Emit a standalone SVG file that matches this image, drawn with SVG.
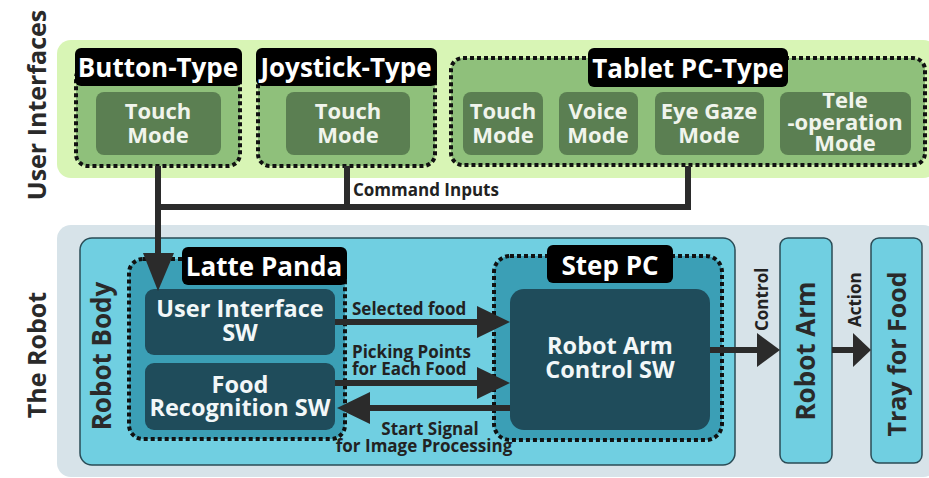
<svg xmlns="http://www.w3.org/2000/svg" width="929" height="478" viewBox="0 0 929 478">
<defs>
<style>
text{font-family:"Open Sans","Liberation Sans",sans-serif;font-weight:bold}
.title{font-size:25px;fill:#2a2a2a;text-anchor:middle}
.lbl{font-size:26px;fill:#fff;text-anchor:middle}
.mode{font-size:22px;fill:#f0f4ec;text-anchor:middle}
.sw{font-size:23.5px;fill:#f2f7f8;text-anchor:middle}
.edge{font-size:17px;fill:#222;}
.vt{font-size:26px;fill:#2a2a2a;text-anchor:middle}
.tag{fill:#000}
.dot{stroke:#111;stroke-width:4;stroke-dasharray:4 3}
.gdot{fill:#8fc07b}
.gin{fill:#5b7f52}
.bdot{fill:#3b9fb6}
.bin{fill:#1f4c5b}
.box{fill:#70cfe1;stroke:#2a4c56;stroke-width:1.5}
.conn{stroke:#2b2b2b;stroke-width:6;fill:none}
.head{fill:#2b2b2b}
</style>
</defs>
<rect width="929" height="478" fill="#fff"/>
<rect x="57" y="40" width="880" height="138" rx="14" fill="#d8f5b5"/>
<rect x="57" y="225" width="880" height="252" rx="14" fill="#d7e3e9"/>
<text class="title" transform="translate(46,105) rotate(-90)">User Interfaces</text>
<text class="title" transform="translate(46,355) rotate(-90)">The Robot</text>

<g id="button-type">
<rect class="gdot dot" x="76" y="66" width="164" height="100" rx="12"/>
<rect class="tag" x="75" y="48" width="167" height="38" rx="6"/>
<text class="lbl" x="158" y="77">Button-Type</text>
<rect class="gin" x="96" y="92" width="125" height="63" rx="8"/>
<text class="mode" x="158" y="119">Touch<tspan x="158" dy="24">Mode</tspan></text>
</g>
<g id="joystick-type">
<rect class="gdot dot" x="258" y="66" width="177" height="100" rx="12"/>
<rect class="tag" x="256" y="48" width="181" height="38" rx="6"/>
<text class="lbl" x="346" y="77">Joystick-Type</text>
<rect class="gin" x="286" y="92" width="124" height="63" rx="8"/>
<text class="mode" x="348" y="119">Touch<tspan x="348" dy="24">Mode</tspan></text>
</g>
<g id="tablet-pc-type">
<rect class="gdot dot" x="451" y="58" width="474" height="107" rx="12"/>
<rect class="tag" x="588" y="48" width="200" height="39" rx="6"/>
<text class="lbl" x="688" y="78">Tablet PC-Type</text>
<rect class="gin" x="463" y="92" width="80" height="63" rx="8"/>
<text class="mode" x="503" y="119">Touch<tspan x="503" dy="24">Mode</tspan></text>
<rect class="gin" x="559" y="92" width="79" height="63" rx="8"/>
<text class="mode" x="598" y="119">Voice<tspan x="598" dy="24">Mode</tspan></text>
<rect class="gin" x="655" y="92" width="109" height="63" rx="8"/>
<text class="mode" x="709" y="119">Eye Gaze<tspan x="709" dy="24">Mode</tspan></text>
<rect class="gin" x="780" y="92" width="131" height="63" rx="8"/>
<text class="mode" x="845" y="108">Tele<tspan x="845" dy="22">-operation</tspan><tspan x="845" dy="21">Mode</tspan></text>
</g>

<g id="robot-body">
<rect class="box" x="80" y="238" width="655" height="227" rx="12"/>
<text class="vt" transform="translate(111,356) rotate(-90)">Robot Body</text>
</g>
<g id="latte-panda">
<rect class="bdot dot" x="129" y="259" width="216" height="180" rx="14"/>
<rect class="tag" x="182" y="247" width="165" height="38" rx="6"/>
<text class="lbl" x="264" y="276">Latte Panda</text>
</g>
<g id="user-interface-sw">
<rect class="bin" x="145" y="289" width="190" height="66" rx="9"/>
<text class="sw" x="240" y="317">User Interface<tspan x="240" dy="24">SW</tspan></text>
</g>
<g id="food-recognition-sw">
<rect class="bin" x="145" y="363" width="190" height="67" rx="9"/>
<text class="sw" x="240" y="393">Food<tspan x="240" dy="23">Recognition SW</tspan></text>
</g>
<g id="step-pc">
<rect class="bdot dot" x="494" y="256" width="228" height="184" rx="16"/>
<rect class="tag" x="547" y="245" width="126" height="38" rx="6"/>
<text class="lbl" x="610" y="275">Step PC</text>
</g>
<g id="robot-arm-control-sw">
<rect class="bin" x="510" y="289" width="200" height="141" rx="14"/>
<text class="sw" x="610" y="354">Robot Arm<tspan x="610" dy="24">Control SW</tspan></text>
</g>
<g id="robot-arm">
<rect class="box" x="780" y="238" width="52" height="225" rx="8"/>
<text class="vt" transform="translate(815,351) rotate(-90)">Robot Arm</text>
</g>
<g id="tray-for-food">
<rect class="box" x="871" y="238" width="51" height="225" rx="8"/>
<text class="vt" style="font-size:25px" transform="translate(906,354) rotate(-90)">Tray for Food</text>
</g>

<g id="connectors">
<path class="conn" d="M158,166 V207 H688 V166"/>
<path class="conn" d="M347,166 V207"/>
<path class="conn" d="M158,207 V256"/>
<path class="head" d="M143,253 L174,253 L158,291 z"/>
<path class="conn" d="M335,322 H480"/>
<path class="head" d="M477,306 L510,322 L477,338 z"/>
<path class="conn" d="M335,383 H480"/>
<path class="head" d="M477,367 L510,383 L477,399 z"/>
<path class="conn" d="M510,408 H368"/>
<path class="head" d="M370,392 L337,408 L370,424 z"/>
<path class="conn" d="M710,350 H760"/>
<path class="head" d="M757,333 L780,350 L757,367 z"/>
<path class="conn" d="M832,350 H856"/>
<path class="head" d="M853,333 L871,350 L853,367 z"/>
<text class="edge" x="353" y="196">Command Inputs</text>
<text class="edge" x="352" y="315">Selected food</text>
<text class="edge" x="352" y="358">Picking Points<tspan x="352" dy="17">for Each Food</tspan></text>
<text class="edge" text-anchor="middle" x="430" y="435">Start Signal<tspan x="424" dy="17">for Image Processing</tspan></text>
<text class="edge" transform="translate(768,331) rotate(-90)">Control</text>
<text class="edge" transform="translate(861,327) rotate(-90)">Action</text>
</g>
</svg>
